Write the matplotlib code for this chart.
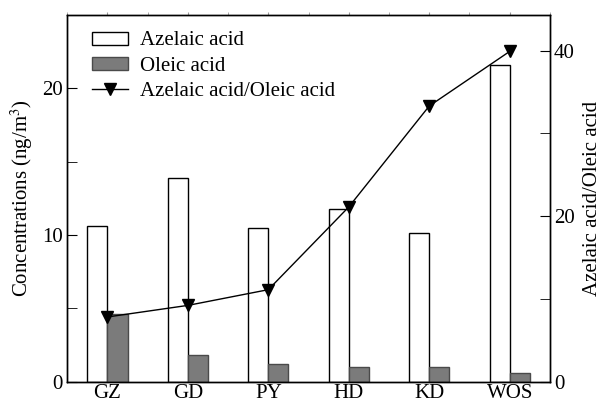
import matplotlib.pyplot as plt
import numpy as np
from matplotlib.ticker import MultipleLocator
from matplotlib.patches import Patch
from matplotlib.lines import Line2D

plt.rcParams['font.family'] = ['Liberation Serif', 'DejaVu Serif']
plt.rcParams['font.size'] = 15
plt.rcParams['mathtext.fontset'] = 'stix'

# Data
sites = ['GZ', 'GD', 'PY', 'HD', 'KD', 'WOS']
azelaic = [10.6, 13.9, 10.5, 11.8, 10.1, 21.6]
oleic = [4.6, 1.8, 1.2, 1.0, 1.0, 0.6]
ratio = [7.8, 9.2, 11.1, 21.1, 33.3, 39.9]

x = np.arange(len(sites))
w = 0.25

fig = plt.figure(figsize=(6.05, 4.05), dpi=100)
ax = fig.add_axes([0.111, 0.058, 0.798, 0.905])

ax.bar(x - w / 2, azelaic, w, color='white', edgecolor='black', linewidth=1.0)
ax.bar(x + w / 2, oleic, w, color='#7b7b7b', edgecolor='#4a4a4a', linewidth=1.0)

ax.set_xlim(-0.5, 5.5)
ax.set_ylim(0, 25)
ax.set_xticks(x)
ax.set_xticklabels(sites)
ax.yaxis.set_major_locator(MultipleLocator(10))
ax.yaxis.set_minor_locator(MultipleLocator(5))
ax.xaxis.set_minor_locator(MultipleLocator(0.5))
ax.tick_params(axis='x', which='both', bottom=False, top=True, direction='out',
               length=2, color='#999999', pad=0)
ax.tick_params(axis='y', which='both', direction='in', length=7, pad=3)
ax.set_ylabel('Concentrations (ng/m$^3$)', labelpad=5)

ax2 = ax.twinx()
ax2.plot(x, ratio, color='black', linewidth=1.0, marker='v', markersize=8,
         markerfacecolor='black', markeredgecolor='black')
ax2.set_ylim(0, 44.3)
ax2.yaxis.set_major_locator(MultipleLocator(20))
ax2.yaxis.set_minor_locator(MultipleLocator(10))
ax2.tick_params(axis='y', which='both', direction='in', length=7, pad=3)
ax2.set_ylabel('Azelaic acid/Oleic acid', labelpad=6)

for a in (ax, ax2):
    for s in a.spines.values():
        s.set_linewidth(1.0)

handles = [
    Patch(facecolor='white', edgecolor='black', linewidth=1.0),
    Patch(facecolor='#7b7b7b', edgecolor='#4a4a4a', linewidth=1.0),
    Line2D([], [], color='black', linewidth=1.0, marker='v', markersize=8),
]
labels = ['Azelaic acid', 'Oleic acid', 'Azelaic acid/Oleic acid']
ax2.legend(handles, labels, loc='upper left', bbox_to_anchor=(0.052, 0.955),
           frameon=False, handlelength=1.73, handleheight=0.6,
           labelspacing=0.3, handletextpad=0.58, borderaxespad=0, borderpad=0)

fig.savefig('out.png', dpi=100)
